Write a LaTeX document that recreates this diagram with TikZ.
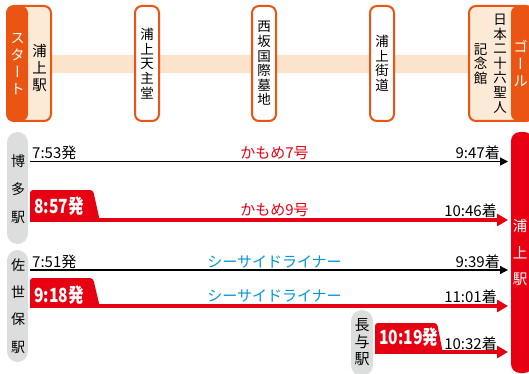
\documentclass[tikz,border=0pt]{standalone}
\usepackage{fontspec}
\setmainfont{Noto Sans CJK JP}
\newfontfamily\vjp[RawFeature=+vert]{Noto Sans CJK JP}
\newfontfamily\tabfont[FakeStretch=0.8]{Noto Sans CJK JP}
\usetikzlibrary{arrows.meta}
\definecolor{orn}{HTML}{EA5514}
\definecolor{cream}{HTML}{FDEAD6}
\definecolor{bandc}{HTML}{FCE4CC}
\definecolor{rd}{HTML}{E60012}
\definecolor{bl}{HTML}{0097DB}
\definecolor{gr}{HTML}{DCDDDD}
\begin{document}
\begin{tikzpicture}[x=1pt,y=-1pt,
 stbox/.style={draw=orn, line width=2pt, rounded corners=7pt, fill=white, minimum width=24pt, minimum height=115pt, inner sep=0pt},
 vt/.style={align=center, inner sep=0pt, font=\vjp\fontsize{13.5}{14.6}\selectfont},
 vtb/.style={align=center, inner sep=0pt, font=\vjp\fontsize{14.5}{17}\selectfont},
 pill/.style={fill=gr, rounded corners=10.5pt, minimum width=21pt, inner sep=0pt},
 pilltxt/.style={align=center, inner sep=0pt},
 tm/.style={inner sep=0pt, font=\fontsize{15}{17}\selectfont},
 tb/.style={inner sep=0pt, text=white, font=\tabfont\bfseries\fontsize{19.5}{20}\selectfont},
 blk/.style={line width=1.3pt, -{Triangle[length=8pt,width=8pt]}},
 redln/.style={rd, line width=3.5pt, -{Triangle[length=11pt,width=12pt]}},
 tabshape/.style={fill=rd},
]
\useasboundingbox (0,0) rectangle (529,374);
\clip (0,0) rectangle (529,374);
% band
\fill[bandc] (45,55) rectangle (475,73);
% stations
\node[stbox, fill=cream, minimum width=44pt, path picture={\fill[orn] (path picture bounding box.north west) rectangle ([xshift=21pt]path picture bounding box.south west);}] (s1) at (29,63.5) {};
\node[vtb, text=white] (s1a) at (17.5,64.5) {ス\\タ\\ー\\ト};
\node[vtb] (s1b) at (39.5,68) {浦\\上\\駅};
\node[stbox] (s2) at (147,63.5) {};
\node[vt] (s2t) at (147,63.5) {浦\\上\\天\\主\\堂};
\node[stbox] (s3) at (264,63.5) {};
\node[vt] (s3t) at (264,63.5) {西\\坂\\国\\際\\墓\\地};
\node[stbox] (s4) at (382,63.5) {};
\node[vt] (s4t) at (382,63.5) {浦\\上\\街\\道};
\node[stbox, fill=cream, minimum width=64pt, path picture={\fill[orn] ([xshift=-22pt]path picture bounding box.north east) rectangle (path picture bounding box.south east);}] (s5) at (501,63.5) {};
\node[vtb, text=white] (s5a) at (520.5,63.5) {ゴ\\ー\\ル};
\node[vt] (s5b) at (500,63.5) {日\\本\\二\\十\\六\\聖\\人};
\node[vt] (s5c) at (480.5,64) {記\\念\\館};
% origin pills
\node[pill, minimum height=112pt] (p1) at (17.5,188) {};
\node[pilltxt, font=\fontsize{14}{28}\selectfont] (p1t) at (18,189) {博\\多\\駅};
\node[pill, minimum height=112pt] (p2) at (17.5,306) {};
\node[pilltxt, font=\fontsize{14}{27.3}\selectfont] (p2t) at (18,306) {佐\\世\\保\\駅};
\node[pill, minimum width=22pt, rounded corners=11pt, minimum height=66pt] (p3) at (362,343) {};
\node[pilltxt, font=\fontsize{15}{17}\selectfont] (p3t) at (362,342) {長\\与\\駅};
% destination
\node[fill=rd, rounded corners=9pt, minimum width=22pt, minimum height=241pt, inner sep=0pt] (dst) at (522,252.5) {};
\node[pilltxt, text=white, font=\fontsize{14.5}{26.5}\selectfont] (dstt) at (520,253) {浦\\上\\駅};
% row 1
\coordinate (r1a) at (30,161.5); \coordinate (r1b) at (508,161.5);
\draw[blk] (r1a) -- (r1b);
\node[tm, anchor=base west] (d1) at (32,158) {7:53発};
\node[tm, anchor=base, text=rd] (n1) at (274.5,158) {かもめ7号};
\node[tm, anchor=base east] (a1) at (500,158) {9:47着};
% row 2
\coordinate (r2a) at (30,220); \coordinate (r2b) at (508,220);
\fill[tabshape] (30,221.5) [rounded corners=3pt] -- (30,190) -- (93,190) [sharp corners] -- (100,221.5) -- cycle;
\draw[redln] (r2a) -- (r2b);
\node[tb, anchor=base west] (d2) at (34,213) {8:57発};
\node[tm, anchor=base, text=rd] (n2) at (274.5,215.5) {かもめ9号};
\node[tm, anchor=base east] (a2) at (497,216) {10:46着};
% row 3
\coordinate (r3a) at (30,270); \coordinate (r3b) at (508,270);
\draw[blk] (r3a) -- (r3b);
\node[tm, anchor=base west] (d3) at (32,267) {7:51発};
\node[tm, anchor=base, text=bl] (n3) at (274.5,267) {シーサイドライナー};
\node[tm, anchor=base east] (a3) at (500,267) {9:39着};
% row 4
\coordinate (r4a) at (30,306); \coordinate (r4b) at (508,306);
\fill[tabshape] (30,307.5) [rounded corners=3pt] -- (30,278) -- (93,278) [sharp corners] -- (100,307.5) -- cycle;
\draw[redln] (r4a) -- (r4b);
\node[tb, anchor=base west] (d4) at (34,302) {9:18発};
\node[tm, anchor=base, text=bl] (n4) at (274.5,301.5) {シーサイドライナー};
\node[tm, anchor=base east] (a4) at (497,302.5) {11:01着};
% row 5
\coordinate (r5a) at (375,352); \coordinate (r5b) at (508,352);
\fill[tabshape] (375,353.5) [rounded corners=3pt] -- (375,323) -- (437,323) [sharp corners] -- (443,353.5) -- cycle;
\draw[redln] (r5a) -- (r5b);
\node[tb, anchor=base west] (d5) at (379,344) {10:19発};
\node[tm, anchor=base east] (a5) at (497,349.5) {10:32着};
\end{tikzpicture}
\end{document}
